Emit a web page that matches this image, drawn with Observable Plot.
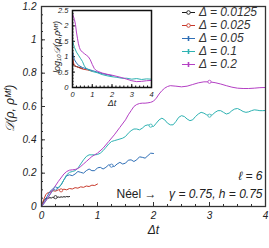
<!DOCTYPE html>
<html><head><meta charset="utf-8">
<script src="https://cdn.jsdelivr.net/npm/d3@7"></script>
<script src="https://cdn.jsdelivr.net/npm/@observablehq/plot@0.6"></script>
<style>
body{margin:0;background:#fff;}
#wrap{position:relative;width:269px;height:248px;overflow:hidden;font-family:"Liberation Sans",Arial,sans-serif;}
#main,#inset,#legend{position:absolute;left:0;top:0;}
#inset{left:44px;top:0px;}
#legend{left:181px;top:6px;}
.row{height:13px;line-height:13px;display:flex;align-items:center;white-space:nowrap;}
.row span{font-style:italic;font-size:12px;color:#333;margin-left:3px;}
</style></head><body>
<div id="wrap"><div id="main"></div><div id="inset"></div><div id="legend"></div></div>
<script>
const deltas = ["0.0125","0.025","0.05","0.1","0.2"];
const colors = ["#1a1a1a","#c8392b","#2f6fb6","#2eb2b2","#b440c4"];

// Main panel: D(rho, rho_MF) vs Δt
const t_a = [0,0.02,0.04,0.06,0.08,0.1,0.125,0.15,0.175,0.2,0.225,0.25,0.275,0.3,0.325,0.35,0.375,0.4,0.425,0.45,0.475,0.5];
const v_a = [0,0.02,0.035,0.043,0.048,0.05,0.05,0.053,0.051,0.055,0.052,0.056,0.054,0.057,0.055,0.058,0.056,0.059,0.057,0.06,0.058,0.06];
const t_b = [0,0.025,0.05,0.075,0.1,0.125,0.15,0.175,0.2,0.25,0.3,0.35,0.4,0.45,0.5,0.55,0.6,0.65,0.7,0.75,0.8,0.85,0.9,0.95,1.0];
const v_b = [0,0.025,0.05,0.07,0.08,0.083,0.085,0.09,0.095,0.092,0.1,0.097,0.104,0.1,0.108,0.105,0.113,0.11,0.118,0.115,0.123,0.12,0.128,0.126,0.135];
const t_c = [0,0.05,0.1,0.15,0.2,0.25,0.3,0.35,0.4,0.45,0.5,0.55,0.6,0.65,0.7,0.75,0.8,0.85,0.9,0.95,1.0,1.05,1.1,1.15,1.2,1.25,1.3,1.35,1.4,1.45,1.5,1.55,1.6,1.65,1.7,1.75,1.8,1.85,1.9,1.95,2.0];
const v_c = [0,0.03,0.06,0.09,0.105,0.108,0.11,0.13,0.16,0.185,0.19,0.185,0.195,0.21,0.205,0.2,0.215,0.225,0.215,0.215,0.232,0.235,0.225,0.235,0.25,0.245,0.24,0.255,0.265,0.255,0.26,0.278,0.28,0.27,0.28,0.298,0.295,0.29,0.305,0.32,0.318];
const t_d = [0,0.05,0.1,0.15,0.2,0.25,0.3,0.35,0.4,0.45,0.5,0.55,0.6,0.65,0.7,0.75,0.8,0.85,0.9,0.95,1.0,1.05,1.1,1.15,1.2,1.25,1.3,1.35,1.4,1.45,1.5,1.55,1.6,1.65,1.7,1.75,1.8,1.85,1.9,1.95,2.0,2.05,2.1,2.15,2.2,2.25,2.3,2.35,2.4,2.45,2.5,2.55,2.6,2.65,2.7,2.75,2.8,2.85,2.9,2.95,3.0,3.05,3.1,3.15,3.2,3.25,3.3,3.35,3.4,3.45,3.5,3.55,3.6,3.65,3.7,3.75,3.8,3.85,3.9,3.95,4.0];
const v_d = [0,0.02,0.045,0.07,0.095,0.11,0.115,0.13,0.16,0.19,0.205,0.21,0.215,0.23,0.255,0.28,0.3,0.31,0.31,0.31,0.312,0.32,0.335,0.355,0.375,0.39,0.395,0.4,0.405,0.41,0.42,0.44,0.455,0.465,0.465,0.46,0.47,0.485,0.49,0.485,0.48,0.5,0.52,0.53,0.52,0.5,0.49,0.49,0.51,0.535,0.545,0.54,0.525,0.515,0.52,0.54,0.555,0.565,0.56,0.55,0.545,0.55,0.565,0.575,0.575,0.565,0.555,0.56,0.575,0.585,0.588,0.58,0.57,0.565,0.568,0.575,0.58,0.578,0.575,0.575,0.576];
const t_e = [0,0.1,0.2,0.3,0.4,0.45,0.5,0.55,0.6,0.65,0.7,0.75,0.8,0.85,0.9,0.95,1.0,1.1,1.2,1.3,1.4,1.5,1.55,1.6,1.65,1.7,1.75,1.8,1.85,1.9,1.95,2.0,2.05,2.1,2.15,2.2,2.25,2.3,2.4,2.5,2.6,2.7,2.8,2.9,3.0,3.1,3.2,3.3,3.4,3.5,3.6,3.7,3.8,3.9,4.0];
const v_e = [0,0.045,0.1,0.15,0.195,0.21,0.218,0.22,0.222,0.228,0.24,0.255,0.27,0.285,0.3,0.31,0.32,0.35,0.39,0.43,0.475,0.52,0.55,0.575,0.6,0.612,0.618,0.62,0.62,0.622,0.625,0.632,0.65,0.675,0.695,0.71,0.72,0.725,0.722,0.718,0.722,0.732,0.742,0.748,0.748,0.743,0.735,0.725,0.716,0.71,0.708,0.708,0.71,0.713,0.714];
const mainT = [t_a,t_b,t_c,t_d,t_e];
const mainV = [v_a,v_b,v_c,v_d,v_e];
// positions (in Δt) of the open markers on each curve
const markT = [[0.25],[0.35],[0.25,1.25],[1.95,3.0],[3.0]];

// Inset: log10 D vs Δt
const it_a = [0,0.03,0.06,0.1,0.2,0.3,0.4,0.5];
const iv_a = [1.0,0.8,0.72,0.7,0.68,0.66,0.64,0.62];
const it_b = [0,0.05,0.1,0.2,0.3,0.5,0.75,1.0];
const iv_b = [1.0,0.8,0.72,0.68,0.65,0.6,0.57,0.53];
const it_c = [0,0.05,0.1,0.2,0.3,0.5,0.75,1.0,1.25,1.5,1.75,2.0];
const iv_c = [1.2,1.0,0.9,0.8,0.72,0.65,0.6,0.55,0.5,0.45,0.42,0.38];
const it_d = [0,0.05,0.1,0.2,0.3,0.4,0.5,0.6,0.7,0.8,1.0,1.25,1.5,1.75,2.0,2.25,2.5,2.75,3.0,3.25,3.5,3.75,4.0];
const iv_d = [1.55,1.4,1.3,1.15,1.05,0.95,0.85,0.7,0.62,0.58,0.52,0.48,0.42,0.38,0.35,0.33,0.3,0.3,0.27,0.29,0.26,0.28,0.27];
const it_e = [0,0.05,0.1,0.15,0.2,0.25,0.3,0.35,0.4,0.5,0.6,0.7,0.8,0.9,1.0,1.1,1.2,1.3,1.5,1.75,2.0,2.25,2.5,2.75,3.0,3.25,3.5,3.75,4.0];
const iv_e = [2.4,2.3,2.2,2.05,1.8,1.6,1.42,1.3,1.22,1.15,1.1,1.05,1.0,0.9,0.75,0.62,0.55,0.52,0.47,0.43,0.4,0.36,0.32,0.27,0.22,0.19,0.2,0.22,0.23];
const insetT = [it_a,it_b,it_c,it_d,it_e];
const insetV = [iv_a,iv_b,iv_c,iv_d,iv_e];

const xTicks = [0,1,2,3,4];
const yTicks = [0,0.2,0.4,0.6,0.8,1,1.2];
const insetYTicks = [0,0.5,1,1.5,2,2.5];

const yLabel = "𝒟(ρ, ρᴹᶠ)";
const xLabel = "Δt";
const insetYLabel = "log₁₀𝒟(ρ,ρᴹᶠ)";
const noteL = "ℓ = 6";
const noteNeel = "Néel →";
const noteParams = "γ = 0.75, h = 0.75";

function rowsOf(T, V) {
  const out = [];
  T.forEach((ts, i) => ts.forEach((t, j) => out.push({t, v: V[i][j], s: deltas[i]})));
  return out;
}
const mainRows = rowsOf(mainT, mainV);
const insetRows = rowsOf(insetT, insetV);
const markRows = [];
markT.forEach((ts, i) => ts.forEach(t => {
  const j = d3.bisector(d => d).center(mainT[i], t);
  markRows.push({t: mainT[i][j], v: mainV[i][j], s: deltas[i]});
}));

const color = {domain: deltas, range: colors};
const fmt = d => String(d);
const font = "Liberation Sans, Arial, sans-serif";

const main = Plot.plot({
  width: 269, height: 248,
  marginLeft: 41, marginRight: 4, marginTop: 6, marginBottom: 42,
  style: {fontFamily: font, fontSize: "10px", background: "transparent", color: "#222"},
  x: {domain: [0, 4]},
  y: {domain: [0, 1.2]},
  color,
  marks: [
    Plot.axisX({ticks: d3.range(0, 4.001, 0.25), tickSize: -2, tickFormat: () => "", label: null, stroke: "#333"}),
    Plot.axisY({ticks: d3.range(0, 1.2001, 0.05), tickSize: -2, tickFormat: () => "", label: null, stroke: "#333"}),
    Plot.axisX({ticks: xTicks, tickSize: -4, tickPadding: 9, tickFormat: fmt, fontStyle: "italic", fontSize: 10, label: null, stroke: "#333"}),
    Plot.axisY({ticks: yTicks, tickSize: -4, tickPadding: 9, tickFormat: fmt, fontStyle: "italic", fontSize: 10, label: null, stroke: "#333"}),
    Plot.line(mainRows, {x: "t", y: "v", z: "s", stroke: "s", strokeWidth: 1}),
    Plot.dot(markRows, {x: "t", y: "v", stroke: "s", fill: "white", r: 1.6, strokeWidth: 0.8}),
    Plot.frame({stroke: "#333", strokeWidth: 1.3}),
    Plot.text([xLabel], {text: d => d, frameAnchor: "bottom", dy: 27, fontStyle: "italic", fontSize: 12}),
    Plot.text([yLabel], {text: d => d, frameAnchor: "left", textAnchor: "middle", dx: -31, dy: 2, rotate: -90, fontStyle: "italic", fontSize: 12}),
    Plot.text([noteL], {text: d => d, frameAnchor: "bottom-right", dx: -3, dy: -27, textAnchor: "end", fontStyle: "italic", fontSize: 12}),
    Plot.text([noteParams], {text: d => d, frameAnchor: "bottom-right", dx: -3, dy: -9, textAnchor: "end", fontStyle: "italic", fontSize: 12}),
    Plot.text([noteNeel], {text: d => d, frameAnchor: "bottom-right", dx: -109, dy: -9, textAnchor: "end", fontSize: 12})
  ]
});
document.getElementById("main").appendChild(main);

const inset = Plot.plot({
  width: 110, height: 112,
  marginLeft: 28, marginRight: 3, marginTop: 10, marginBottom: 25,
  style: {fontFamily: font, fontSize: "7px", background: "transparent", color: "#222"},
  x: {domain: [0, 4]},
  y: {domain: [0, 2.5]},
  color,
  marks: [
    Plot.axisX({ticks: d3.range(0, 4.001, 0.2), tickSize: -1.5, tickFormat: () => "", label: null, stroke: "#111"}),
    Plot.axisY({ticks: d3.range(0, 2.5001, 0.1), tickSize: -1.5, tickFormat: () => "", label: null, stroke: "#111"}),
    Plot.axisX({ticks: xTicks, tickSize: -3, tickPadding: 7, tickFormat: fmt, fontStyle: "italic", fontSize: 7.5, label: null, stroke: "#111"}),
    Plot.axisY({ticks: insetYTicks, tickSize: -3, tickPadding: 7, tickFormat: fmt, fontStyle: "italic", fontSize: 7.5, label: null, stroke: "#111"}),
    Plot.line(insetRows, {x: "t", y: "v", z: "s", stroke: "s", strokeWidth: 1}),
    Plot.frame({stroke: "#111", strokeWidth: 1.5}),
    Plot.text([xLabel], {text: d => d, frameAnchor: "bottom", dy: 18, fontStyle: "italic", fontSize: 9}),
    Plot.text([insetYLabel], {text: d => d, frameAnchor: "left", textAnchor: "middle", dx: -15, dy: -2, rotate: -90, fontStyle: "italic", fontSize: 8.5, className: "inset-ylab"})
  ]
});
document.getElementById("inset").appendChild(inset);
// keep the inset y label to the length it has in the reference
d3.select(inset).selectAll(".inset-ylab text").attr("textLength", 52).attr("lengthAdjust", "spacingAndGlyphs");

// legend
const leg = d3.select("#legend");
deltas.forEach((d, i) => {
  const row = leg.append("div").attr("class", "row");
  const svg = row.append("svg").attr("width", 15).attr("height", 13);
  svg.append("line").attr("x1", 1).attr("x2", 14).attr("y1", 6.5).attr("y2", 6.5).attr("stroke", colors[i]).attr("stroke-width", 1);
  if (i < 2) {
    svg.append("circle").attr("cx", 7.5).attr("cy", 6.5).attr("r", 1.8).attr("fill", "white").attr("stroke", colors[i]).attr("stroke-width", 0.9);
  } else {
    svg.append("line").attr("x1", 7.5).attr("x2", 7.5).attr("y1", 4).attr("y2", 9).attr("stroke", colors[i]).attr("stroke-width", 1.6);
  }
  row.append("span").text("Δ = " + d);
});
</script>
</body></html>
